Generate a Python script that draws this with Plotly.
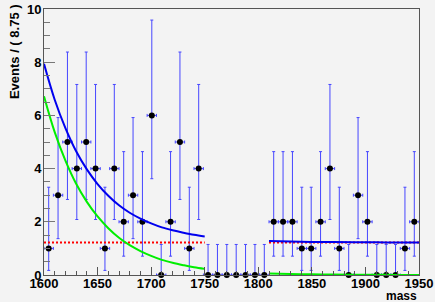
import plotly.graph_objects as go

# ---- data ----
bin_width = 8.75
bin_centers = [1604.375 + 8.75 * i for i in range(40)]
counts = [1, 3, 5, 4, 5, 4, 1, 4, 2, 3,
          2, 6, 0, 2, 5, 1, 4, 0, 0, 0,
          0, 0, 0, 0, 2, 2, 2, 1, 1, 2,
          4, 1, 0, 3, 2, 0, 0, 0, 1, 2]

# Poisson (68%) interval bounds used by the error bars, per count
poisson_lo = [0.0, 0.173, 0.708, 1.367, 2.086, 2.840, 3.620]
poisson_hi = [1.148, 3.300, 4.638, 5.918, 7.163, 8.382, 9.584]

# fitted curves
curve1_x = [1600, 1610, 1620, 1630, 1640, 1650, 1660, 1670, 1680,
            1690, 1700, 1710, 1720, 1730, 1740, 1750]
green1 = [6.72, 5.37, 4.30, 3.43, 2.75, 2.20, 1.76, 1.40, 1.12,
          0.90, 0.72, 0.57, 0.46, 0.37, 0.29, 0.23]
blue1 = [7.94, 6.59, 5.52, 4.65, 3.97, 3.42, 2.98, 2.62, 2.34,
         2.12, 1.94, 1.79, 1.68, 1.59, 1.51, 1.45]
curve2_x = [1810, 1830, 1850, 1870, 1890, 1910, 1930, 1950]
green2 = [0.061, 0.039, 0.025, 0.016, 0.010, 0.0065, 0.004, 0.0027]
blue2 = [1.281, 1.259, 1.245, 1.236, 1.230, 1.227, 1.224, 1.223]
flat_level = 1.22
flat1_x = [1600, 1750]
flat2_x = [1810, 1950]

# ---- derived arrays ----
err_plus = [poisson_hi[n] - n for n in counts]
err_minus = [n - poisson_lo[n] for n in counts]

BG = "#f3f3f3"
EB = "rgb(70,70,255)"
FONT = dict(family="Liberation Sans, Arial, sans-serif", size=13, color="black", weight="bold")

fig = go.Figure()

fig.add_trace(go.Scatter(
    x=bin_centers, y=counts, mode="markers",
    marker=dict(color="black", size=6),
    error_y=dict(type="data", symmetric=False, array=err_plus, arrayminus=err_minus,
                 color=EB, thickness=1, width=1.5),
    error_x=dict(type="constant", value=bin_width / 2, color=EB, thickness=1, width=1.5),
    showlegend=False, cliponaxis=False,
))

for xs in (flat1_x, flat2_x):
    fig.add_trace(go.Scatter(
        x=xs, y=[flat_level] * len(xs), mode="lines",
        line=dict(color="red", width=2, dash="2px,2px"), showlegend=False))

for xs, ys in ((curve1_x, green1), (curve2_x, green2)):
    fig.add_trace(go.Scatter(
        x=xs, y=ys, mode="lines", line=dict(color="#00ee00", width=2, shape="spline"),
        showlegend=False))

for xs, ys in ((curve1_x, blue1), (curve2_x, blue2)):
    fig.add_trace(go.Scatter(
        x=xs, y=ys, mode="lines", line=dict(color="#0000ee", width=2, shape="spline"),
        showlegend=False))

fig.update_layout(
    width=435, height=302,
    margin=dict(l=44, r=16, t=9, b=27, autoexpand=False),
    paper_bgcolor=BG, plot_bgcolor=BG,
    xaxis=dict(range=[1600, 1950], dtick=50, tick0=1600, ticks="inside", ticklen=8,
               tickcolor="#555", showline=True, linecolor="#555", mirror=True,
               showgrid=False, zeroline=False, tickfont=FONT, automargin=False,
               ticklabelstandoff=-4,
               minor=dict(dtick=10, ticks="inside", ticklen=4, tickcolor="#555")),
    yaxis=dict(range=[0, 10], dtick=2, tick0=0, ticks="inside", ticklen=11,
               tickcolor="#777", showline=True, linecolor="#555", mirror=True,
               showgrid=False, zeroline=False, tickfont=FONT, automargin=False,
               ticklabelstandoff=-1,
               minor=dict(dtick=0.5, ticks="inside", ticklen=6, tickcolor="#777")),
    annotations=[
        dict(text="Events / ( 8.75 )", textangle=-90, xref="paper", yref="paper",
             x=-0.08, y=0.838, xanchor="center", yanchor="middle", showarrow=False,
             font=FONT),
        dict(text="mass", xref="paper", yref="paper", x=1.0, y=-0.079,
             xanchor="right", yanchor="middle", showarrow=False,
             font=dict(family="Liberation Sans, Arial, sans-serif", size=12,
                       color="black", weight="bold")),
    ],
)

fig.write_html("out.html", config={"displayModeBar": False},
               post_script="document.body.style.margin='0';document.body.style.background='#f3f3f3';")
